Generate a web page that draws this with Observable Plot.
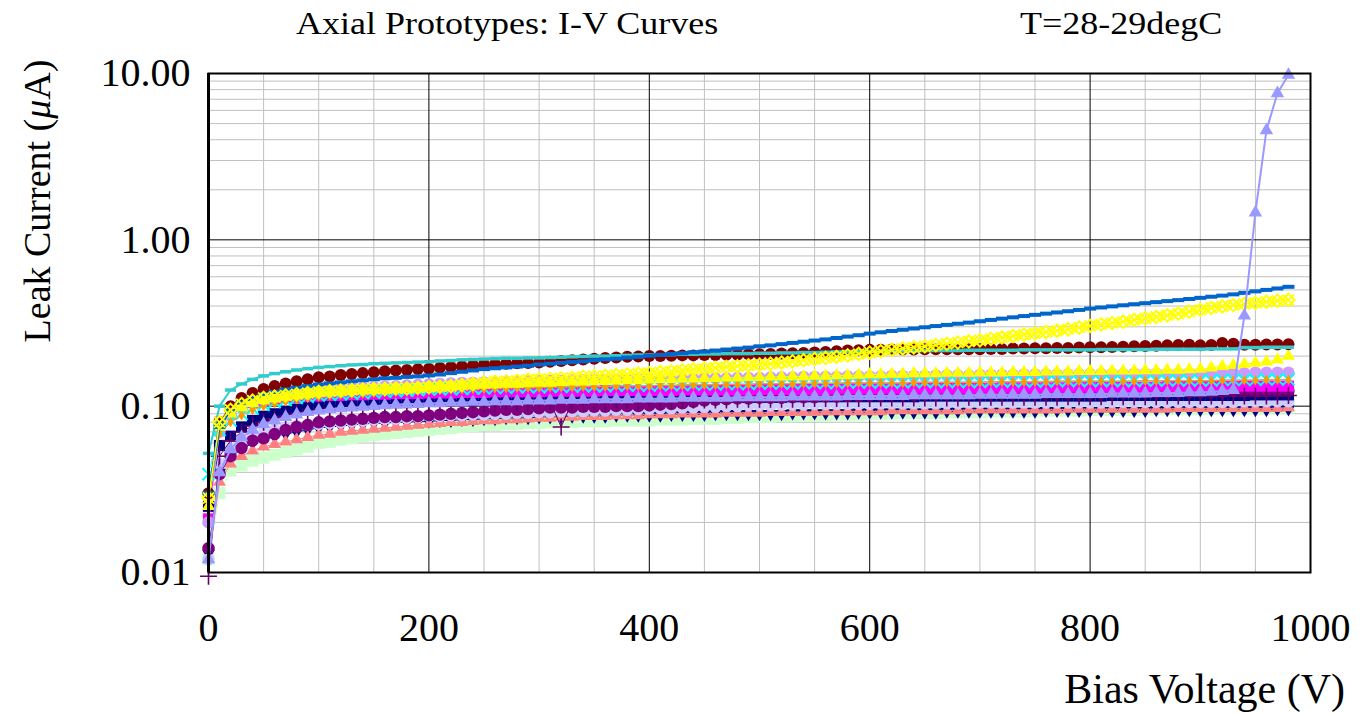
<!DOCTYPE html>
<html><head><meta charset="utf-8">
<script src="https://cdn.jsdelivr.net/npm/d3@7"></script>
<script src="https://cdn.jsdelivr.net/npm/@observablehq/plot@0.6"></script>
<style>
body{margin:0;background:#fff;width:1372px;height:714px;overflow:hidden;position:relative;font-family:"Liberation Serif","Times New Roman",serif;}
#chart{position:absolute;left:0;top:0}
.t{position:absolute;white-space:nowrap;color:#000;line-height:1}
#title{left:296px;top:3px;font-size:36px;transform:scaleY(0.85);transform-origin:left bottom}
#temp{left:1020px;top:3px;font-size:36px;transform:scaleY(0.85);transform-origin:left bottom}
#xlab{right:27px;top:668px;font-size:42px}
#ylab{left:37px;top:201px;font-size:38px;transform:translate(-50%,-50%) rotate(-90deg)}
</style></head><body>
<div id="chart"></div>
<div class="t" id="title">Axial Prototypes: I-V Curves</div>
<div class="t" id="temp">T=28-29degC</div>
<div class="t" id="xlab">Bias Voltage (V)</div>
<div class="t" id="ylab">Leak Current (<i>μ</i>A)</div>
<script>
// Bias voltage steps (V)
const V = [0,10,20,30,40,50,60,70,80,90,100,110,120,130,140,150,160,170,180,190,200,210,220,230,240,250,260,270,280,290,300,310,320,330,340,350,360,370,380,390,400,410,420,430,440,450,460,470,480,490,500,510,520,530,540,550,560,570,580,590,600,610,620,630,640,650,660,670,680,690,700,710,720,730,740,750,760,770,780,790,800,810,820,830,840,850,860,870,880,890,900,910,920,930,940,950,960,970,980];

// Leak currents in nA (divide by 1000 for µA)
const turq = [52,100,125,136,145,152,157,161,165,168, 171,173,175,177,178,180,181,182,183,184, 185,187,188,190,191,192,193,194,194,195, 195,196,197,198,199,200,200,201,202,203, 203,204,204,205,205,206,206,207,207,207, 208,208,209,209,210,210,211,212,213,213, 214,214,215,215,215,216,216,216,216,217, 217,217,217,217,218,218,218,218,218,218, 218,219,219,219,219,219,220,220,220,220, 220,221,221,221,225,225,226,226,226];
const darkRed = [30,80,100,112,120,127,132,137,141,145, 149,151,154,156,158,160,162,164,165,167, 168,170,172,174,176,178,179,180,181,182, 183,185,187,189,191,193,195,196,198,199, 200,200,201,202,202,203,203,204,204,205, 205,206,207,208,209,210,212,214,216,217, 218,218,219,219,219,220,220,220,220,220, 220,221,221,222,222,223,223,224,224,225, 226,226,227,228,229,230,231,232,233,234, 232,233,240,237,234,234,235,235,236];
const blue = [30,75,95,105,112,118,122,126,129,132, 135,137,139,141,143,145,147,148,150,151, 153,155,158,161,164,167,169,171,173,175, 178,180,182,184,186,189,191,193,196,198, 201,203,206,208,211,213,216,219,222,225, 229,232,236,240,244,248,252,257,262,267, 273,278,283,288,293,298,303,308,313,318, 324,330,336,342,348,354,360,366,372,379, 386,392,398,404,410,416,422,428,434,441, 448,455,462,470,480,490,500,510,522];
const yellowDia = [28,80,95,103,108,112,114,116,118,120, 122,123,124,125,126,127,127,128,128,129, 130,131,132,134,136,138,140,141,142,144, 145,146,147,148,150,151,152,154,155,157, 158,160,162,164,166,168,170,172,174,176, 178,180,183,186,189,192,195,198,202,206, 210,214,218,222,226,229,233,237,241,245, 249,254,259,264,269,274,279,284,290,297, 304,310,316,322,330,337,344,352,360,370, 380,390,398,405,412,418,424,430,435];
const lavTri = [12,40,55,65,72,78,82,86,89,92, 94,96,97,98,99,100,101,102,103,103, 104,104,105,105,106,106,107,107,107,108, 108,108,109,109,109,110,110,110,110,111, 111,111,111,112,112,112,112,112,113,113, 113,113,113,114,114,114,114,114,115,115, 115,115,115,115,116,116,116,116,116,116, 117,117,117,117,117,117,118,118,118,118, 118,118,119,119,119,119,120,120,120,121, 121,122,123,125,350,1460,4550,7600,9800];
const yellowTri = [25,75,90,98,104,108,111,114,116,118, 120,121,122,123,124,125,126,127,128,129, 130,131,132,133,133,134,135,136,136,137, 138,138,139,140,140,141,141,142,143,143, 144,145,145,146,146,147,147,148,148,149, 149,150,150,151,151,152,152,153,153,154, 155,155,156,156,157,157,157,158,158,158, 159,159,159,160,160,160,161,161,161,162, 162,162,163,163,163,164,164,165,165,166, 167,170,174,176,179,182,185,190,200];
const lightPurple = [20,70,88,98,105,110,114,117,120,122, 124,125,127,128,129,130,131,132,133,134, 135,136,137,138,138,139,139,140,140,141, 141,142,142,143,143,143,144,144,144,145, 145,145,146,146,146,147,147,147,148,148, 148,149,149,149,150,150,150,150,151,151, 151,151,152,152,152,152,153,153,153,153, 154,154,154,154,155,155,155,155,155,156, 156,156,156,156,157,157,157,157,157,158, 158,158,158,158,158,159,159,159,159];
const cyanX = [39,72,82,90,97,102,106,109,112,114, 116,117,118,119,120,121,122,123,124,125, 126,126,127,127,128,128,129,129,130,130, 130,131,131,131,132,132,132,133,133,133, 133,134,134,134,135,135,135,136,136,136, 137,137,137,137,138,138,138,138,139,139, 139,139,139,139,140,140,140,140,140,140, 140,141,141,141,141,141,141,142,142,142, 142,142,142,142,142,143,143,143,143,143, 143,143,144,144,144,144,145,145,145];
const orange = [30,68,80,88,95,100,104,107,110,112, 114,116,117,118,119,120,121,122,123,124, 125,125,126,126,127,127,128,128,129,129, 129,130,130,130,131,131,131,132,132,132, 132,133,133,133,134,134,134,135,135,135, 136,136,136,136,137,137,137,137,138,138, 138,138,138,138,139,139,139,139,139,139, 139,140,140,140,140,140,140,141,141,141, 141,141,141,141,141,142,142,142,142,142, 142,142,143,143,143,143,144,144,144];
const magenta = [21,80,93,100,105,108,110,112,113,114, 115,116,116,117,117,118,118,119,119,119, 120,120,120,121,121,121,122,122,122,122, 122,123,123,123,123,123,124,124,124,124, 124,124,124,125,125,125,125,125,125,125, 126,126,126,126,126,126,126,127,127,127, 127,127,127,127,128,128,128,128,128,128, 128,128,129,129,129,129,129,129,129,130, 130,130,130,130,130,130,130,131,131,131, 131,131,131,131,132,132,132,132,132];
const navySq = [25,58,66,75,82,87,90,93,96,99, 100,101,102,103,103,104,104,105,105,106, 107,107,108,108,108,109,109,109,110,110, 110,110,111,111,111,111,111,112,112,112, 112,112,112,112,113,113,113,113,113,113, 113,113,113,114,114,114,114,114,114,114, 114,114,114,114,114,115,115,115,115,115, 115,115,115,115,115,115,115,115,115,115, 115,115,116,116,116,116,116,116,116,116, 116,116,116,116,116,117,117,117,117];
const purple = [14,39,50,56,62,64,68,72,75,77, 80,81,82,83,84,85,86,86,87,87, 88,89,90,91,92,93,94,95,95,96, 97,98,98,98,99,99,99,100,100,100, 101,102,103,104,106,108,109,110,111,111, 112,112,112,113,113,113,114,114,115,115, 116,116,117,117,117,118,118,118,118,119, 119,119,119,119,120,120,120,120,120,120, 120,120,121,121,121,121,121,121,122,122, 122,122,122,123,123,123,123,124,124];
const lightLav = [12,45,55,62,66,70,72,74,76,77, 78,79,80,81,82,83,84,84,85,86, 87,87,88,88,89,89,90,90,91,91, 92,92,93,93,93,94,94,95,95,96, 96,97,97,98,98,99,99,100,100,101, 101,101,102,102,102,103,103,103,103,103, 103,104,104,104,104,104,104,104,104,105, 105,105,105,105,105,105,105,105,105,105, 105,105,106,106,106,106,106,106,106,106, 106,106,106,106,107,107,107,107,107];
const salmon = [12,35,45,50,54,57,59,61,63,65, 67,68,70,71,72,73,74,75,76,77, 78,79,80,80,81,82,82,83,83,84, 85,85,86,86,87,87,87,88,88,88, 89,89,89,90,90,90,90,91,91,91, 91,92,92,92,92,92,93,93,93,93, 93,93,94,94,94,94,94,94,94,95, 95,95,95,95,95,95,95,95,96,96, 96,96,96,96,96,96,96,96,97,97, 97,97,97,97,97,97,97,97,98];
const green = [12,30,41,44,47,49,51,53,55,57, 60,61,63,64,66,67,68,69,70,71, 72,73,74,75,76,77,77,78,78,79, 79,80,80,80,81,81,81,82,82,82, 82,83,83,83,84,84,84,85,85,86, 86,86,87,87,88,88,88,89,89,89, 90,90,90,91,91,91,91,92,92,92, 92,93,93,93,93,94,94,94,94,94, 95,95,95,95,95,96,96,96,96,96, 96,97,97,97,97,97,97,98,98];
const navyDown = [13,40,50,55,60,63,66,68,70,72, 74,75,76,77,78,79,79,80,80,81, 81,82,82,83,83,84,84,85,85,85, 86,86,86,87,87,87,87,88,88,88, 88,88,89,89,89,89,90,90,90,90, 90,90,90,91,91,91,91,91,91,92, 92,92,92,92,92,92,92,93,93,93, 93,93,93,93,93,93,94,94,94,94, 94,94,94,94,94,94,95,95,95,95, 95,95,95,95,95,95,95,96,96];
const plusPurple = [9.5,50,62,70,76,80,84,87,90,92, 94,95,96,97,98,99,100,100,101,101, 102,102,103,103,104,104,104,105,105,105, 106,106,75,106,107,107,107,107,108,108, 108,108,108,109,109,109,109,109,110,110, 110,110,110,110,111,111,111,111,111,111, 111,112,112,112,112,112,112,112,112,113, 113,113,113,113,113,113,113,113,114,114, 114,114,114,114,114,114,114,115,115,115, 115,115,115,115,115,115,115,115,116];

// Axis tick values / grid lines
const xTicks = [0,200,400,600,800,1000];
const xMajorGrid = [200,400,600,800];
const xMinorGrid = [50,100,150,250,300,350,450,500,550,650,700,750,850,900,950];
const yTicks = [0.01,0.1,1,10];
const yMajorGrid = [0.1,1];
const yMinorGrid = [0.02,0.03,0.04,0.05,0.06,0.07,0.08,0.09,0.2,0.3,0.4,0.5,0.6,0.7,0.8,0.9,2,3,4,5,6,7,8,9];

const rows = vals => vals.map((v, i) => ({V: V[i], I: v / 1000}));
const dash = {draw(ctx, size) { const w = Math.sqrt(size / Math.PI); ctx.moveTo(-w, 0); ctx.lineTo(w, 0); }};

// drawing order: bottom -> top
const specs = [
  {d: green, c: "#CCFFCC", sym: "square", r: 6.8, lw: 1},
  {d: navyDown, c: "#000080", sym: "triangle", r: 4.8, rot: 180, lw: 1},
  {d: salmon, c: "#FF8080", sym: "triangle", r: 4.8, lw: 1},
  {d: lightLav, c: "#CCCCFF", sym: "circle", r: 6.2, lw: 1},
  {d: navySq, c: "#000080", sym: "square", r: 6.3, lw: 1},
  {d: purple, c: "#800080", sym: "circle", r: 6.2, lw: 1},
  {d: magenta, c: "#FF00FF", sym: "square", r: 6.3, lw: 1},
  {d: plusPurple, c: "#660066", sym: "plus", r: 5.5, lw: 1, stroke: true},
  {d: lightPurple, c: "#CC99FF", sym: "circle", r: 6.2, lw: 1},
  {d: cyanX, c: "#00FFFF", sym: "times", r: 5.6, lw: 1, stroke: true, sw: 2},
  {d: orange, c: "#FF9900", sym: "diamond", r: 3.2, lw: 1},
  {d: yellowTri, c: "#FFFF00", sym: "triangle", r: 4.8, lw: 1},
  {d: darkRed, c: "#800000", sym: "circle", r: 6, lw: 1},
  {d: turq, c: "#33CCCC", sym: dash, r: 5.5, lw: 2, stroke: true, sw: 3.5},
  {d: blue, c: "#0066CC", sym: dash, r: 6, lw: 2.5, stroke: true, sw: 4},
  {d: yellowDia, c: "#FFFF00", sym: "diamond2", r: 5.6, lw: 1.5, stroke: true, sw: 2, extraTimes: true},
  {d: lavTri, c: "#9999FF", sym: "triangle", r: 5, lw: 2}
];

const marks = [
  Plot.ruleX(xMinorGrid, {stroke: "#c0c0c0", strokeWidth: 1}),
  Plot.ruleY(yMinorGrid, {stroke: "#c0c0c0", strokeWidth: 1}),
  Plot.ruleX(xMajorGrid, {stroke: "#000", strokeWidth: 1}),
  Plot.ruleY(yMajorGrid, {stroke: "#000", strokeWidth: 1})
];
for (const s of specs) {
  const data = rows(s.d);
  marks.push(Plot.line(data, {x: "V", y: "I", stroke: s.c, strokeWidth: s.lw}));
  const o = {x: "V", y: "I", symbol: s.sym, r: s.r};
  if (s.stroke) { o.stroke = s.c; o.fill = "none"; o.strokeWidth = s.sw || 1.6; }
  else { o.fill = s.c; o.stroke = "none"; }
  if (s.rot) o.rotate = s.rot;
  marks.push(Plot.dot(data, o));
  if (s.extraTimes) marks.push(Plot.dot(data, {x: "V", y: "I", symbol: "times", r: 5, stroke: s.c, strokeWidth: 1.8}));
}
marks.push(
  Plot.frame({stroke: "#000", strokeWidth: 2}),
  Plot.ruleX([0], {stroke: "#000", strokeWidth: 3}),
  Plot.axisX({ticks: xTicks, tickSize: 0, tickPadding: 40, fontSize: 40, label: null, tickFormat: d3.format("d")}),
  Plot.axisY({ticks: yTicks, tickSize: 0, tickPadding: 18, fontSize: 40, label: null, tickFormat: d3.format(".2f")})
);

const chart = Plot.plot({
  width: 1372, height: 714,
  marginLeft: 208, marginRight: 62, marginTop: 73, marginBottom: 142,
  style: {fontFamily: "'Liberation Serif','Times New Roman',serif", background: "#fff", color: "#000", overflow: "visible"},
  x: {domain: [0, 1000]},
  y: {type: "log", domain: [0.01, 10]},
  marks
});
document.getElementById("chart").append(chart);
</script>
</body></html>
